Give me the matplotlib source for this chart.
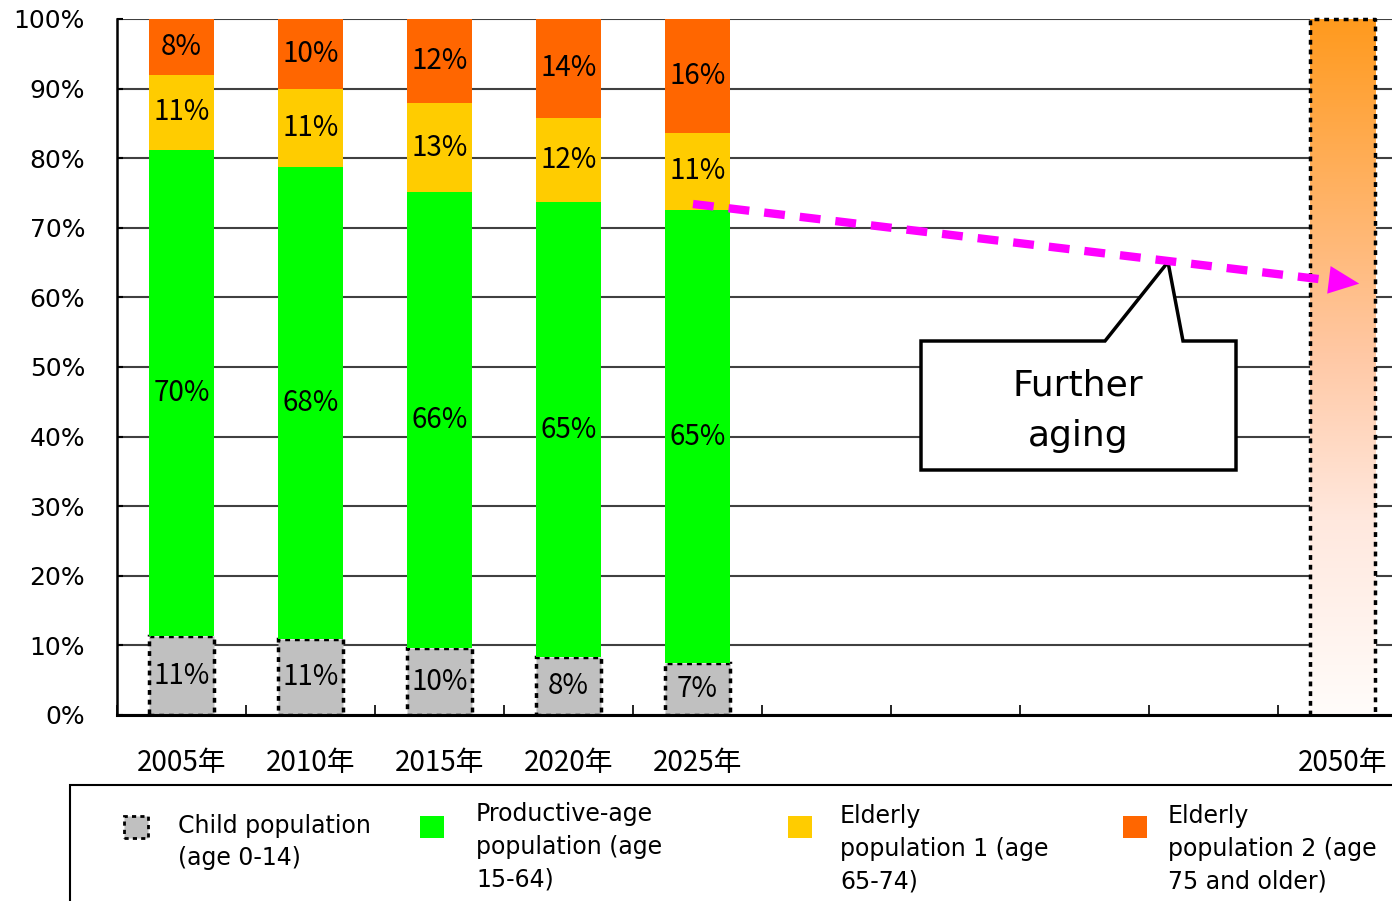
import numpy as np
import matplotlib.pyplot as plt
from matplotlib.patches import Rectangle, Polygon
from matplotlib.colors import LinearSegmentedColormap

# Population share by age group (%)
years = ['2005年', '2010年', '2015年', '2020年', '2025年', '', '', '', '', '2050年']
child = [11.3, 10.9, 9.6, 8.3, 7.4]
productive = [69.9, 67.8, 65.5, 65.4, 65.2]
elderly1 = [10.8, 11.2, 12.8, 12.1, 11.0]
elderly2 = [8.0, 10.1, 12.1, 14.2, 16.4]
share_2050 = 100

series = [child, productive, elderly1, elderly2]
colors = ['#C0C0C0', '#00FF00', '#FFCC00', '#FF6600']
legend_labels = ['Child population\n(age 0-14)',
                 'Productive-age\npopulation (age\n15-64)',
                 'Elderly\npopulation 1 (age\n65-74)',
                 'Elderly\npopulation 2 (age\n75 and older)']

W, H = 1392, 901
fig = plt.figure(figsize=(W / 100, H / 100), dpi=100)
ax = fig.add_axes([117 / W, 1 - 715 / H, 1290 / W, 696 / H])

cjk = ['Noto Sans CJK JP', 'DejaVu Sans']
x = np.arange(len(child)) + 0.5
bw = 0.51

bottom = np.zeros(len(child))
for i, (vals, col) in enumerate(zip(series, colors)):
    vals = np.array(vals)
    if i == 0:
        ax.bar(x, vals, bw, bottom=bottom, color=col, edgecolor='black',
               linewidth=2.5, linestyle=(0, (1.4, 1.4)), zorder=2)
    else:
        ax.bar(x, vals, bw, bottom=bottom, color=col, linewidth=0, zorder=2)
    for xi, b, v in zip(x, bottom, vals):
        ax.text(xi, b + v / 2, f'{v:.0f}%', ha='center', va='center',
                fontsize=20, family=cjk, zorder=4)
    bottom += vals

# 2050 bar drawn as a vertical gradient
x50 = years.index('2050年') + 0.5
grad = LinearSegmentedColormap.from_list(
    'fade', [(0, '#FFFCFA'), (0.28, '#FFE8DE'), (0.52, '#FFC8A4'), (1, '#FF9A1E')])
ax.imshow(np.linspace(0, 1, 256).reshape(-1, 1), cmap=grad, origin='lower',
          extent=[x50 - bw / 2, x50 + bw / 2, 0, share_2050], aspect='auto', zorder=2)
ax.plot([x50 - bw / 2, x50 - bw / 2, x50 + bw / 2, x50 + bw / 2],
        [0, share_2050, share_2050, 0], color='black', lw=2.5,
        linestyle=(0, (1.4, 1.4)), zorder=3, clip_on=False)

ax.set_xlim(0, 10)
ax.set_ylim(0, 100)
ax.set_yticks(np.arange(0, 101, 10))
ax.set_yticklabels([f'{v}%' for v in range(0, 101, 10)], fontsize=18, family='DejaVu Sans')
ax.set_xticks(np.arange(0, 11))
ax.set_xticklabels([])
ax.set_xticks(np.arange(10) + 0.5, minor=True)
ax.set_xticklabels(years, minor=True, fontsize=20, family=cjk)
ax.tick_params(axis='x', which='major', direction='in', length=7, width=1.2)
ax.tick_params(axis='x', which='minor', length=0, pad=24)
ax.tick_params(axis='y', direction='in', length=4, width=1.5, pad=23)
ax.grid(axis='y', color='#404040', linewidth=1.5)
ax.set_axisbelow(True)
for s in ['top', 'right']:
    ax.spines[s].set_visible(False)
ax.spines['left'].set_linewidth(1.8)
ax.spines['bottom'].set_linewidth(2.2)
ax.spines['bottom'].set_zorder(5)


def to_data(px, py):
    return (px - 117) / 129, (715 - py) / 6.96


# Dashed trend arrow
start = to_data(693, 204)
tip = to_data(1362, 284)
near = to_data(1335, 281)
ax.plot([start[0], near[0]], [start[1], near[1]], color='#FF00FF', lw=6,
        dashes=(2.5, 1.8), solid_capstyle='butt', zorder=6)
back = to_data(1330, 280)
ax.annotate('', xy=tip, xytext=back,
            arrowprops=dict(arrowstyle='-|>,head_length=1.1,head_width=0.5',
                            mutation_scale=20, color='#FF00FF', lw=0), zorder=6)

# Speech-bubble callout
pts = [to_data(*p) for p in [(921, 470), (921, 341), (1105, 341), (1168, 262),
                             (1183, 341), (1236, 341), (1236, 470)]]
ax.add_patch(Polygon(pts, closed=True, facecolor='white', edgecolor='black',
                     lw=2.5, joinstyle='miter', zorder=5))
cx, cy = to_data(1078, 411)
ax.text(cx, cy, 'Further\naging', ha='center', va='center', fontsize=26,
        family='DejaVu Sans', linespacing=1.6, zorder=6)

# Legend panel below the chart
def fx(px):
    return px / W


def fy(py):
    return 1 - py / H


fig.add_artist(Rectangle((fx(70), fy(940)), fx(1400) - fx(70), fy(785) - fy(940),
                         transform=fig.transFigure, facecolor='none',
                         edgecolor='black', lw=1.5))
marker_x = [124, 420, 788, 1123]
text_x = [178, 476, 840, 1168]
text_y = [842, 847, 849, 849]
for i, (mx, tx, ty, lab, col) in enumerate(zip(marker_x, text_x, text_y,
                                               legend_labels, colors)):
    if i == 0:
        fig.add_artist(Rectangle((fx(mx), fy(838)), fx(24), 22 / H,
                                 transform=fig.transFigure, facecolor=col,
                                 edgecolor='black', lw=2, linestyle=(0, (1.5, 1.5))))
    else:
        fig.add_artist(Rectangle((fx(mx), fy(838)), fx(24), 22 / H,
                                 transform=fig.transFigure, facecolor=col, lw=0))
    fig.text(fx(tx), fy(ty), lab, ha='left', va='center', fontsize=17,
             family='DejaVu Sans', linespacing=1.45)

fig.savefig('out.png', dpi=100)
